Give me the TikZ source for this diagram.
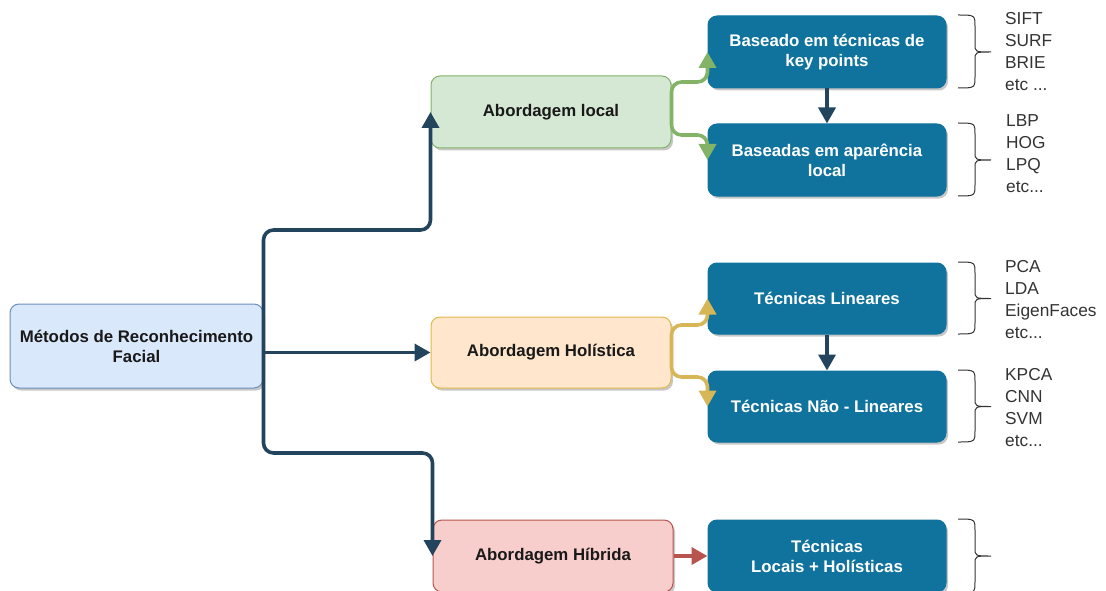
\documentclass[tikz,border=0pt]{standalone}
\usepackage{fontspec}
\setmainfont{Liberation Sans}
\usetikzlibrary{arrows.meta,shadows}

\definecolor{navy}{HTML}{23445D}
\definecolor{techblue}{HTML}{10739E}
\definecolor{rootfill}{HTML}{DAE8FC}
\definecolor{rootline}{HTML}{6C8EBF}
\definecolor{localfill}{HTML}{D5E8D4}
\definecolor{localline}{HTML}{82B366}
\definecolor{holfill}{HTML}{FFE6CC}
\definecolor{holline}{HTML}{E0B84A}
\definecolor{hibfill}{HTML}{F8CECC}
\definecolor{hibline}{HTML}{B85450}
\definecolor{goldedge}{HTML}{D6B656}
\definecolor{listgrey}{HTML}{333333}

% right-hand curly bracket: top, middle and bottom y values
\newcommand\curlyb[3]{%
  \draw[bracestyle] (958,#1) .. controls (975,#1) .. (975,#1+12) -- (975,#2-8)
    .. controls (975,#2) .. (991,#2) .. controls (975,#2) .. (975,#2+8)
    -- (975,#3-12) .. controls (975,#3) .. (958,#3);}

\begin{document}
\begin{tikzpicture}[x=1pt,y=-1pt,
  box/.style={rounded corners=9pt, line width=1pt, align=center,
    font=\bfseries\fontsize{16.8}{20}\selectfont, inner sep=2pt,
    drop shadow={shadow xshift=2pt, shadow yshift=-2.5pt, opacity=0.22, fill=black}},
  rootbox/.style={box, fill=rootfill, draw=rootline, text=black!90},
  localbox/.style={box, fill=localfill, draw=localline, text=black!90},
  holbox/.style={box, fill=holfill, draw=holline, text=black!90},
  hibbox/.style={box, fill=hibfill, draw=hibline, text=black!90},
  techbox/.style={box, fill=techblue, draw=techblue, text=white},
  edge/.style={line width=3.6pt, rounded corners=10pt,
    -{Triangle[width=17pt,length=16pt]}},
  navyedge/.style={edge, draw=navy, color=navy},
  greenedge/.style={edge, draw=localline, color=localline},
  goldenedge/.style={edge, draw=goldedge, color=goldedge},
  rededge/.style={edge, draw=hibline, color=hibline},
  bracestyle/.style={draw=listgrey, line width=1pt},
  listtext/.style={anchor=west, align=left, inner sep=0pt, text=listgrey,
    font=\fontsize{17.3}{22}\selectfont}
]
\useasboundingbox (0,0) rectangle (1106,591);

% boxes
\node[rootbox, minimum width=253pt, minimum height=84pt] (root) at (136.5,346)
  {Métodos de Reconhecimento\\Facial};
\node[localbox, minimum width=240pt, minimum height=72pt] (local) at (551,112)
  {Abordagem local};
\node[holbox, minimum width=240pt, minimum height=71pt] (hol) at (551,352.5)
  {Abordagem Holística};
\node[hibbox, minimum width=240pt, minimum height=72pt] (hib) at (553,556)
  {Abordagem Híbrida};

\node[techbox, minimum width=238pt, minimum height=72pt] (kp) at (827,52)
  {Baseado em técnicas de\\key points};
\node[techbox, minimum width=238pt, minimum height=72pt] (al) at (827,160)
  {Baseadas em aparência\\local};
\node[techbox, minimum width=238pt, minimum height=71pt] (tl) at (827,298.5)
  {Técnicas Lineares};
\node[techbox, minimum width=238pt, minimum height=71pt] (tnl) at (827,406.5)
  {Técnicas Não - Lineares};
\node[techbox, minimum width=238pt, minimum height=72pt] (tlh) at (827,556)
  {Técnicas\\Locais + Holísticas};

% connectors from the root
\draw[navyedge] (root.east) -- (root.east |- 0,230) -- (local.west |- 0,230) -- (local.west);
\draw[navyedge] (root.east |- hol.west) -- (hol.west);
\draw[navyedge] (root.east) -- (root.east |- 0,453) -- (hib.west |- 0,453) -- (hib.west);

% local branch
\draw[greenedge] (local.east) |- (kp.west |- 0,82) -- (kp.west);
\draw[greenedge] (local.east) |- (al.west |- 0,135) -- (al.west);
\draw[navyedge] (kp.south) -- (al.north);

% holistic branch
\draw[goldenedge] (hol.east) |- (tl.west |- 0,325) -- (tl.west);
\draw[goldenedge] (hol.east) |- (tnl.west |- 0,377) -- (tnl.west);
\draw[navyedge] (tl.south) -- (tnl.north);

% hybrid branch
\draw[rededge] (hib.east) -- (tlh.west);

% brackets and examples
\curlyb{15}{52}{88}
\curlyb{123}{160}{196}
\curlyb{262}{298.5}{334}
\curlyb{370}{406.5}{442}
\curlyb{519}{556}{593}

\node[listtext] (l1) at (1005,52) {SIFT\\SURF\\BRIE\\etc ...};
\node[listtext] (l2) at (1006,154) {LBP\\HOG\\LPQ\\etc...};
\node[listtext] (l3) at (1005,300) {PCA\\LDA\\EigenFaces\\etc...};
\node[listtext] (l4) at (1005,408) {KPCA\\CNN\\SVM\\etc...};
\end{tikzpicture}
\end{document}
